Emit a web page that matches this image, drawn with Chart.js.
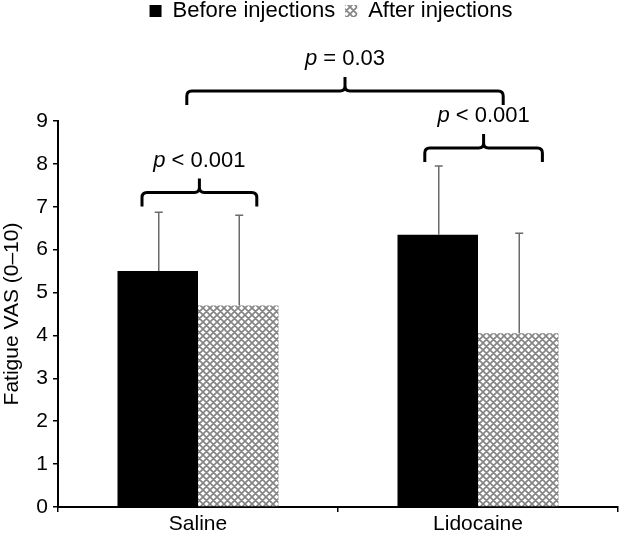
<!DOCTYPE html>
<html>
<head>
<meta charset="utf-8">
<script src="https://cdn.jsdelivr.net/npm/chart.js@4.4.0/dist/chart.umd.min.js"></script>
<style>
  html, body { margin: 0; padding: 0; background: #fff; }
  #grafico { display: block; }
</style>
</head>
<body>
<canvas id="grafico" width="630" height="535"></canvas>
<script>
// DADOS
const categorias = ['Saline', 'Lidocaine'];
const antesMedia = [5.5, 6.35];
const antesDesvio = [1.37, 1.6];
const depoisMedia = [4.7, 4.05];
const depoisDesvio = [2.1, 2.33];
const ticksY = [0, 1, 2, 3, 4, 5, 6, 7, 8, 9];

// comparações: posição em unidades de categoria, nível em unidades do eixo y
const comparacoes = [
  { sinal: '<', valor: '0.001', de: -0.2, ate: 0.21, nivel: 7.33 },
  { sinal: '<', valor: '0.001', de: 0.81, ate: 1.23, nivel: 8.37 },
  { sinal: '=', valor: '0.03', de: -0.04, ate: 1.09, nivel: 9.7 }
];

const FONTE = 'Arial, "Liberation Sans", sans-serif';

function criarHachura() {
  const c = document.createElement('canvas');
  c.width = 7;
  c.height = 7;
  const g = c.getContext('2d');
  g.fillStyle = '#ffffff';
  g.fillRect(0, 0, 7, 7);
  g.strokeStyle = '#858585';
  g.lineWidth = 1.7;
  g.beginPath();
  for (let k = -7; k <= 14; k += 7) {
    g.moveTo(k, 0); g.lineTo(k + 7, 7);
    g.moveTo(k + 7, 0); g.lineTo(k, 7);
  }
  g.stroke();
  return g.createPattern(c, 'repeat');
}

function desenharChave(ctx, x1, x2, yLinha, altura) {
  const xm = (x1 + x2) / 2;
  const r = 5;
  ctx.beginPath();
  ctx.moveTo(x1, yLinha + altura);
  ctx.lineTo(x1, yLinha + r);
  ctx.quadraticCurveTo(x1, yLinha, x1 + r, yLinha);
  ctx.lineTo(xm - r, yLinha);
  ctx.quadraticCurveTo(xm, yLinha, xm, yLinha - r);
  ctx.lineTo(xm, yLinha - altura);
  ctx.moveTo(xm, yLinha - r);
  ctx.quadraticCurveTo(xm, yLinha, xm + r, yLinha);
  ctx.lineTo(x2 - r, yLinha);
  ctx.quadraticCurveTo(x2, yLinha, x2, yLinha + r);
  ctx.lineTo(x2, yLinha + altura);
  ctx.stroke();
}

function escreverP(ctx, xm, yTexto, sinal, valor) {
  const italico = 'italic 22px ' + FONTE;
  const normal = '22px ' + FONTE;
  ctx.font = italico;
  const wP = ctx.measureText('p').width;
  ctx.font = normal;
  const resto = ' ' + sinal + ' ' + valor;
  const wR = ctx.measureText(resto).width;
  const x0 = xm - (wP + wR) / 2;
  ctx.fillStyle = '#000';
  ctx.textAlign = 'left';
  ctx.textBaseline = 'middle';
  ctx.font = italico;
  ctx.fillText('p', x0, yTexto);
  ctx.font = normal;
  ctx.fillText(resto, x0 + wP, yTexto);
}

// barras de erro + chaves com valores de p
const anotacoes = {
  id: 'anotacoes',
  afterDatasetsDraw(chart) {
    const ctx = chart.ctx;
    const eixoX = chart.scales.x;
    const eixoY = chart.scales.y;

    chart.data.datasets.forEach((ds, i) => {
      const meta = chart.getDatasetMeta(i);
      meta.data.forEach((barra, j) => {
        const topo = eixoY.getPixelForValue(ds.data[j] + ds.desvio[j]);
        ctx.save();
        ctx.strokeStyle = '#6b6b6b';
        ctx.lineWidth = 1.5;
        ctx.beginPath();
        ctx.moveTo(barra.x + 1, barra.y);
        ctx.lineTo(barra.x + 1, topo);
        ctx.moveTo(barra.x - 3, topo);
        ctx.lineTo(barra.x + 5, topo);
        ctx.stroke();
        ctx.restore();
      });
    });

    comparacoes.forEach(({ sinal, valor, de, ate, nivel }) => {
      const x1 = eixoX.getPixelForValue(de);
      const x2 = eixoX.getPixelForValue(ate);
      const yLinha = eixoY.getPixelForValue(nivel);
      ctx.save();
      ctx.strokeStyle = '#000';
      ctx.lineWidth = 3;
      ctx.lineJoin = 'round';
      desenharChave(ctx, x1, x2, yLinha, 14);
      escreverP(ctx, (x1 + x2) / 2, yLinha - 14 - 18, sinal, valor);
      ctx.restore();
    });
  }
};

// espaço extra abaixo da legenda para as chaves, e legenda um pouco à direita
const espacoLegenda = {
  id: 'espacoLegenda',
  beforeInit(chart) {
    const fitOriginal = chart.legend.fit;
    chart.legend.fit = function () {
      fitOriginal.bind(chart.legend)();
      this.height += 79;
    };
  },
  afterLayout(chart) {
    chart.legend.left += 22;
    chart.legend.right += 22;
    chart.legend.top -= 10;
  }
};

function main() {
  const hachura = criarHachura();
  const ctx = document.getElementById('grafico').getContext('2d');
  new Chart(ctx, {
    type: 'bar',
    data: {
      labels: categorias,
      datasets: [
        {
          label: 'Before injections',
          data: antesMedia,
          desvio: antesDesvio,
          backgroundColor: '#000000',
          borderWidth: 0,
          categoryPercentage: 0.575,
          barPercentage: 1.0
        },
        {
          label: 'After injections',
          data: depoisMedia,
          desvio: depoisDesvio,
          backgroundColor: hachura,
          borderWidth: 0,
          categoryPercentage: 0.575,
          barPercentage: 1.0
        }
      ]
    },
    options: {
      responsive: false,
      animation: false,
      layout: { padding: { top: 0, right: 12, left: 0, bottom: 0 } },
      plugins: {
        legend: {
          position: 'top',
          labels: {
            color: '#000',
            font: { family: FONTE, size: 22 },
            boxWidth: 12,
            boxHeight: 12,
            padding: 10
          }
        },
        tooltip: { enabled: false }
      },
      scales: {
        x: {
          grid: {
            drawOnChartArea: false,
            color: '#000',
            lineWidth: 1.5,
            tickLength: 5
          },
          border: { color: '#000', width: 2 },
          ticks: {
            color: '#000',
            font: { family: FONTE, size: 21 },
            padding: 0
          },
          afterFit(escala) { escala.height = 28; }
        },
        y: {
          min: 0,
          max: 9,
          afterBuildTicks(escala) { escala.ticks = ticksY.map(v => ({ value: v })); },
          grid: {
            drawOnChartArea: false,
            color: '#000',
            lineWidth: 1.5,
            tickLength: 5
          },
          border: { color: '#000', width: 2 },
          ticks: {
            color: '#000',
            font: { family: FONTE, size: 21 },
            padding: 5
          },
          title: {
            display: true,
            text: 'Fatigue VAS (0–10)',
            color: '#000',
            font: { family: FONTE, size: 21 },
            padding: { top: 0, bottom: 4 }
          },
          afterFit(escala) { escala.width = 58; }
        }
      }
    },
    plugins: [espacoLegenda, anotacoes]
  });
}

main();
</script>
</body>
</html>
